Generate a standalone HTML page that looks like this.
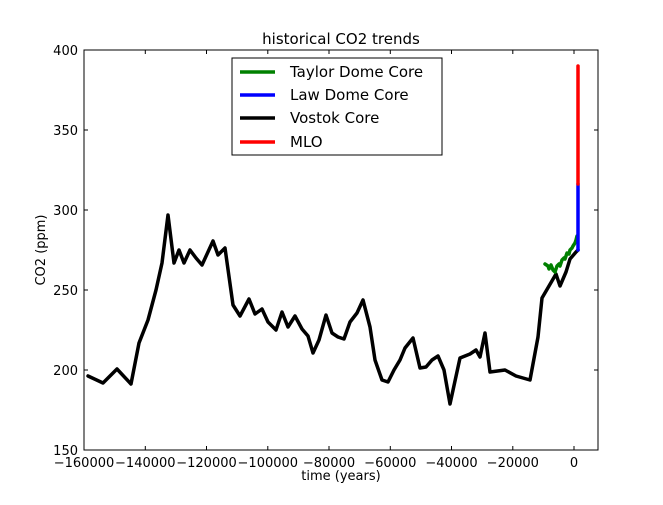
<!DOCTYPE html>
<html><head><style>body{margin:0;background:#fff}svg text{font-family:"DejaVu Sans","Liberation Sans",sans-serif}</style></head><body>
<svg width="663" height="500" xmlns="http://www.w3.org/2000/svg">
<rect width="663" height="500" fill="#fff"/>
<text x="341" y="44" font-size="15" text-anchor="middle">historical CO2 trends</text>
<g fill="none" stroke-linejoin="round" stroke-linecap="round">
<polyline stroke="#000" stroke-width="3.5" points="88,376 103,383 117,369 131,384 139,343 148,320 156,290 162,263 168,215 174,263 179,250 184,263 190,250 196,258 202,265 213,241 218,255 225,248 233,305 240,316 249,299 255,314 262,309 268,322 276,330 282,312 288,327 295,316 302,329 308,336 313,353 319,340 326,315 332,333 338,337 344,339 350,322 357,313 363,300 370,327 375,360 382,380 388,382 394,370 400,360 405,348 413,338 420,368 426,367 432,360 438,356 444,370 450,404 460,358 470,354 476,350 480,357 485,333 490,372 505,370 516,376 530,380 538,337 542,298 556,274 560,286 566,272 570,259 576,252 578,250"/>
<polyline stroke="#008000" stroke-width="3.5" points="545,264 548,266 549,269 551,265 553,270 555,272 557,266 559,264 560,266 562,260 564,258 565,259 567,253 569,254 570,250 572,248 573,246 575,243 576,240 577,236"/>
<polyline stroke="#0000ff" stroke-width="3.5" points="578,250 578,184"/>
<polyline stroke="#ff0000" stroke-width="3.5" points="578,184 578,66"/>
</g>
<rect x="84" y="50" width="514" height="400" fill="none" stroke="#000" stroke-width="1"/>
<g stroke="#000" stroke-width="1">
<path d="M84,450v-4M145.3,450v-4M206.5,450v-4M267.8,450v-4M329,450v-4M390.3,450v-4M451.5,450v-4M512.8,450v-4M574,450v-4"/>
<path d="M84,50v4M145.3,50v4M206.5,50v4M267.8,50v4M329,50v4M390.3,50v4M451.5,50v4M512.8,50v4M574,50v4"/>
<path d="M84,450h4M84,370h4M84,290h4M84,210h4M84,130h4M84,50h4M598,450h-4M598,370h-4M598,290h-4M598,210h-4M598,130h-4M598,50h-4"/>
</g>
<g font-size="13" text-anchor="middle">
<text x="84" y="467">−160000</text><text x="145.3" y="467">−140000</text><text x="206.5" y="467">−120000</text><text x="267.8" y="467">−100000</text><text x="329" y="467">−80000</text><text x="390.3" y="467">−60000</text><text x="451.5" y="467">−40000</text><text x="512.8" y="467">−20000</text><text x="574" y="467">0</text>
</g>
<g font-size="13" text-anchor="end">
<text x="78" y="455">150</text><text x="78" y="375">200</text><text x="78" y="295">250</text><text x="78" y="215">300</text><text x="78" y="135">350</text><text x="78" y="55">400</text>
</g>
<text x="341" y="480" font-size="13" text-anchor="middle">time (years)</text>
<text transform="translate(45,250) rotate(-90)" font-size="13" text-anchor="middle">CO2 (ppm)</text>
<rect x="232" y="58" width="210" height="97" fill="#fff" stroke="#000"/>
<g stroke-width="3.5"><line x1="240" y1="72" x2="275" y2="72" stroke="#008000"/><line x1="240" y1="95" x2="275" y2="95" stroke="#0000ff"/><line x1="240" y1="118" x2="275" y2="118" stroke="#000"/><line x1="240" y1="142" x2="275" y2="142" stroke="#ff0000"/></g>
<g font-size="15"><text x="290" y="77">Taylor Dome Core</text><text x="290" y="100">Law Dome Core</text><text x="290" y="123">Vostok Core</text><text x="290" y="147">MLO</text></g>
</svg>
</body></html>
